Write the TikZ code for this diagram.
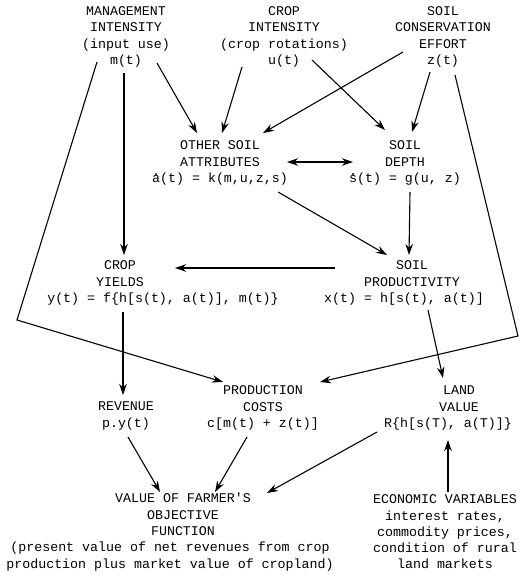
\documentclass[tikz,border=0pt]{standalone}
\usepackage{fontspec}
\usetikzlibrary{arrows.meta}
\newfontfamily\typewriter{Liberation Mono}
% dot over a letter (time derivative)
\newcommand{\dotacc}[1]{\ooalign{#1\cr\hidewidth\raisebox{0.5em}{.}\hidewidth\cr}}
% move a centred line sideways by half of #1
\newcommand{\shifted}[2]{\makebox[0pt]{\hspace*{#1}#2}}
\tikzset{bighead/.tip={Stealth[length=11pt, width=7.5pt]}}
\begin{document}
\begin{tikzpicture}[x=1pt, y=-1pt,
  label/.style={align=center, inner sep=0pt, font=\typewriter\fontsize{13.3}{16.3}\selectfont},
  arr/.style={-bighead, line width=1.1pt}]
\useasboundingbox (0,0) rectangle (526,580);

\node[label](mgmt) at (126,37){MANAGEMENT\\INTENSITY\\(input use)\\m(t)};
\node[label](cropint) at (284,37){CROP\\INTENSITY\\(crop rotations)\\u(t)};
\node[label](cons) at (443,37){SOIL\\CONSERVATION\\EFFORT\\z(t)};
\node[label](attr) at (220,163){OTHER SOIL\\ATTRIBUTES\\\dotacc{a}(t) = k(m,u,z,s)};
\node[label](depth) at (405,163){SOIL\\DEPTH\\\dotacc{s}(t) = g(u, z)};
\node[label](yields) at (163,283){\shifted{-86pt}{CROP}\\\shifted{-86pt}{YIELDS}\\y(t) = f\{h[s(t), a(t)], m(t)\}};
\node[label](prod) at (404,283){\shifted{16pt}{SOIL}\\\shifted{16pt}{PRODUCTIVITY}\\x(t) = h[s(t), a(t)]};
\node[label](revenue) at (126,416){REVENUE\\p.y(t)};
\node[label](costs) at (263,408){PRODUCTION\\COSTS\\c[m(t) + z(t)]};
\node[label](land) at (448,408){\shifted{22pt}{LAND}\\\shifted{22pt}{VALUE}\\R\{h[s(T), a(T)]\}};
\node[label](farmer) at (170,532){\shifted{26pt}{VALUE OF FARMER'S}\\\shifted{26pt}{OBJECTIVE}\\\shifted{26pt}{FUNCTION}\\(present value of net revenues from crop\\production plus market value of cropland)};
\node[label](econ) at (445,532){ECONOMIC VARIABLES\\interest rates,\\commodity prices,\\condition of rural\\land markets};

\coordinate (lbend) at (17,320);
\coordinate (rbend) at (518,336);

\draw[arr] ([shift={(31,26)}]mgmt.center) -- ([shift={(-23,-30)}]attr.center);
\draw[arr] ([shift={(-42,30)}]cropint.center) -- ([shift={(2,-30)}]attr.center);
\draw[arr] ([shift={(-40,15)}]cons.center) -- ([shift={(43,-30)}]attr.center);
\draw[arr] ([shift={(28,23)}]cropint.center) -- ([shift={(-20,-33)}]depth.center);
\draw[arr] ([shift={(-13,35)}]cons.center) -- ([shift={(7,-31)}]depth.center);
\draw[arr, bighead-bighead] ([shift={(67,-1)}]attr.center) -- ([shift={(-52,-1)}]depth.center);
\draw[arr] ([shift={(-29,25)}]mgmt.center) -- (lbend) -- ([shift={(-40,-26)}]costs.center);
\draw[arr] ([shift={(-2,36)}]mgmt.center) -- ([shift={(-39,-28)}]yields.center);
\draw[arr] ([shift={(12,38)}]cons.center) -- (rbend) -- ([shift={(57,-26)}]costs.center);
\draw[arr] ([shift={(58,29)}]attr.center) -- ([shift={(-17,-28)}]prod.center);
\draw[arr] ([shift={(5,29)}]depth.center) -- ([shift={(5,-28)}]prod.center);
\draw[arr] ([shift={(-69,-15)}]prod.center) -- ([shift={(12,-15)}]yields.center);
\draw[arr] ([shift={(-40,29)}]yields.center) -- ([shift={(-3,-21)}]revenue.center);
\draw[arr] ([shift={(24,27)}]prod.center) -- ([shift={(-5,-30)}]land.center);
\draw[arr] ([shift={(2,21)}]revenue.center) -- ([shift={(-10,-40)}]farmer.center);
\draw[arr] ([shift={(-16,29)}]costs.center) -- ([shift={(45,-40)}]farmer.center);
\draw[arr] ([shift={(-71,24)}]land.center) -- ([shift={(97,-39)}]farmer.center);
\draw[arr] ([shift={(3,-40)}]econ.center) -- ([shift={(0,32)}]land.center);
\end{tikzpicture}
\end{document}
